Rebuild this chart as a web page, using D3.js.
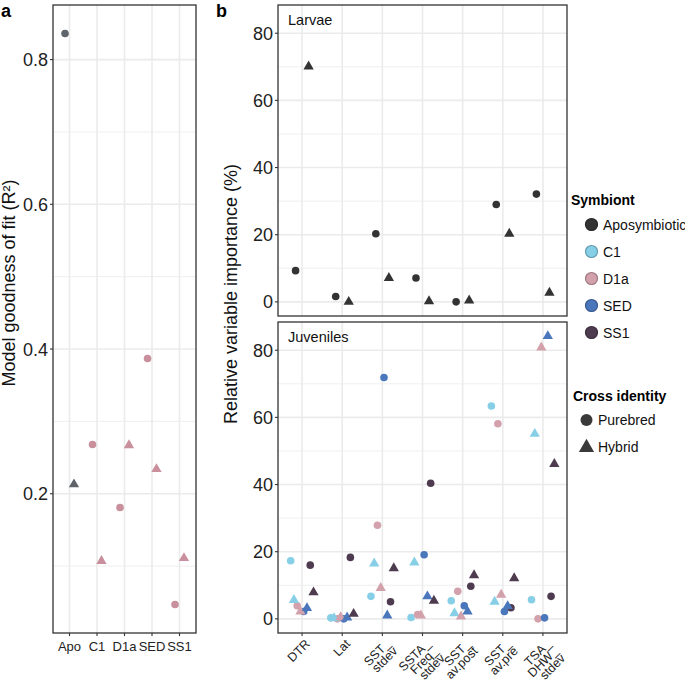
<!DOCTYPE html>
<html>
<head>
<meta charset="utf-8">
<script src="https://cdn.jsdelivr.net/npm/d3@7"></script>
<style>
  body { margin: 0; background: #fff; }
  svg { font-family: "Liberation Sans", Arial, sans-serif; }
</style>
</head>
<body>
<svg id="chart" width="685" height="682"></svg>
<script>
// ---- data ----
const symbionts = ["Aposymbiotic", "C1", "D1a", "SED", "SS1"];
const symbiontColors = ["#333333", "#86cfe7", "#d3a1ab", "#4a76bb", "#4e3b4f"];
const crosses = ["Purebred", "Hybrid"];

// panel a: model fit
const fitGroups = ["Apo", "C1", "D1a", "SED", "SS1"];
const fitPurebred = [0.836, 0.268, 0.181, 0.387, 0.047];
const fitHybrid = [0.213, 0.107, 0.267, 0.234, 0.111];

// panel b: variable importance
const predictors = ["DTR", "Lat", "SST_stdev", "SSTA_Freq_stdev", "SST_av.post", "SST_av.pre", "TSA_DHW_stdev"];
const predictorLabels = [["DTR"], ["Lat"], ["SST_", "stdev"], ["SSTA_", "Freq_", "stdev"], ["SST_", "av.post"], ["SST_", "av.pre"], ["TSA_", "DHW_", "stdev"]];

const larvaePurebred = [9.3, 1.6, 20.3, 7.1, 0.0, 29.0, 32.1];
const larvaeHybrid = [70.1, 0.0, 7.1, 0.2, 0.4, 20.3, 2.7];

const juvC1Purebred = [17.3, 0.3, 6.7, 0.4, 5.4, 63.4, 5.7];
const juvC1Hybrid = [5.6, 0.2, 16.5, 16.8, 1.7, 5.1, 55.1];
const juvD1aPurebred = [3.9, 0.0, 27.9, 1.3, 8.2, 58.1, 0.0];
const juvD1aHybrid = [2.2, 0.5, 9.2, 1.0, 0.7, 7.2, 80.8];
const juvSEDPurebred = [2.2, 0.0, 71.9, 19.1, 3.9, 2.2, 0.3];
const juvSEDHybrid = [3.2, 0.4, 1.0, 6.7, 2.2, 3.8, 84.2];
const juvSS1Purebred = [16.0, 18.3, 5.1, 40.4, 9.7, 3.3, 6.7];
const juvSS1Hybrid = [7.9, 1.5, 15.1, 5.4, 13.0, 12.1, 46.1];

// ---- build rows ----
const fitRows = [];
fitGroups.forEach((g, i) => {
  fitRows.push({ cat: g, sym: i, cross: 0, v: fitPurebred[i], grp: 0, n: 2 });
  fitRows.push({ cat: g, sym: i, cross: 1, v: fitHybrid[i], grp: 1, n: 2 });
});

const larvaeRows = [];
predictors.forEach((p, i) => {
  larvaeRows.push({ cat: p, sym: 0, cross: 0, v: larvaePurebred[i], grp: 0, n: 2 });
  larvaeRows.push({ cat: p, sym: 0, cross: 1, v: larvaeHybrid[i], grp: 1, n: 2 });
});

const juvSeries = [
  [juvC1Purebred, juvC1Hybrid],
  [juvD1aPurebred, juvD1aHybrid],
  [juvSEDPurebred, juvSEDHybrid],
  [juvSS1Purebred, juvSS1Hybrid]
];
const juvRows = [];
predictors.forEach((p, i) => {
  juvSeries.forEach((pair, s) => {
    pair.forEach((arr, c) => {
      juvRows.push({ cat: p, sym: s + 1, cross: c, v: arr[i], grp: s * 2 + c, n: 8 });
    });
  });
});

const svg = d3.select("#chart");
const dodgeW = 0.65;
const triSym = d3.symbol(d3.symbolTriangle, 46);

function drawFrame(box, x, y, majors, minors, fmt) {
  const g = svg.append("g");
  minors.forEach(m => {
    g.append("line").attr("x1", box.l).attr("x2", box.r).attr("y1", y(m)).attr("y2", y(m))
      .attr("stroke", "#ebebeb").attr("stroke-width", 0.8);
  });
  majors.forEach(m => {
    g.append("line").attr("x1", box.l).attr("x2", box.r).attr("y1", y(m)).attr("y2", y(m))
      .attr("stroke", "#ebebeb").attr("stroke-width", 1.6);
  });
  x.domain().forEach(c => {
    g.append("line").attr("x1", x(c)).attr("x2", x(c)).attr("y1", box.t).attr("y2", box.b)
      .attr("stroke", "#ebebeb").attr("stroke-width", 1.6);
  });
  // y ticks + labels
  majors.forEach(m => {
    g.append("line").attr("x1", box.l - 3).attr("x2", box.l).attr("y1", y(m)).attr("y2", y(m))
      .attr("stroke", "#333").attr("stroke-width", 1.1);
    g.append("text").attr("x", box.l - 5).attr("y", y(m)).attr("dy", "0.36em")
      .attr("text-anchor", "end").attr("font-size", 18).attr("fill", "#222")
      .text(fmt(m));
  });
  return g;
}

function drawBorder(box) {
  svg.append("rect").attr("x", box.l).attr("y", box.t)
    .attr("width", box.r - box.l).attr("height", box.b - box.t)
    .attr("fill", "none").attr("stroke", "#333").attr("stroke-width", 1.3);
}

function drawPoints(rows, x, y, colorFn) {
  const step = x.step();
  const px = d => x(d.cat) + step * dodgeW * ((d.grp + 0.5) / d.n - 0.5);
  const g = svg.append("g");
  g.selectAll("circle").data(rows.filter(d => d.cross === 0)).join("circle")
    .attr("cx", px).attr("cy", d => y(d.v)).attr("r", 3.8)
    .attr("fill", colorFn);
  g.selectAll("path").data(rows.filter(d => d.cross === 1)).join("path")
    .attr("d", triSym)
    .attr("transform", d => `translate(${px(d)},${y(d.v)})`)
    .attr("fill", colorFn);
}

// ---- panel a ----
const boxA = { l: 53, r: 196, t: 5, b: 633 };
const xA = d3.scalePoint().domain(fitGroups).range([boxA.l, boxA.r]).padding(0.6);
const fitMax = d3.max(fitPurebred.concat(fitHybrid));
const fitMin = d3.min(fitPurebred.concat(fitHybrid));
const fitPad = (fitMax - fitMin) * 0.05;
const yA = d3.scaleLinear().domain([fitMin - fitPad, fitMax + fitPad]).range([boxA.b, boxA.t]);
drawFrame(boxA, xA, yA, [0.2, 0.4, 0.6, 0.8], [0.1, 0.3, 0.5, 0.7], d3.format(".1f"));
drawPoints(fitRows, xA, yA, d => d.sym === 0 ? "#5f636a" : "#c98f9c");
drawBorder(boxA);
fitGroups.forEach(c => {
  svg.append("line").attr("x1", xA(c)).attr("x2", xA(c)).attr("y1", boxA.b).attr("y2", boxA.b + 3)
    .attr("stroke", "#333").attr("stroke-width", 1.1);
  svg.append("text").attr("x", xA(c)).attr("y", boxA.b + 18).attr("text-anchor", "middle")
    .attr("font-size", 13).attr("fill", "#222").text(c);
});
svg.append("text").attr("transform", "translate(15,283) rotate(-90)")
  .attr("text-anchor", "middle").attr("font-size", 18).attr("fill", "#111")
  .text("Model goodness of fit (R²)");
svg.append("text").attr("x", 1).attr("y", 17).attr("font-size", 18).attr("font-weight", "bold").text("a");

// ---- panel b ----
const boxL = { l: 278, r: 567, t: 5, b: 316 };
const boxJ = { l: 278, r: 567, t: 322, b: 633 };
const allB = larvaeRows.concat(juvRows).map(d => d.v);
const bMax = d3.max(allB), bMin = d3.min(allB);
const bPad = (bMax - bMin) * 0.05;
const xB = d3.scalePoint().domain(predictors).range([boxL.l, boxL.r]).padding(0.6);
const yL = d3.scaleLinear().domain([bMin - bPad, bMax + bPad]).range([boxL.b, boxL.t]);
const yJ = d3.scaleLinear().domain([bMin - bPad, bMax + bPad]).range([boxJ.b, boxJ.t]);
const majorsB = [0, 20, 40, 60, 80], minorsB = [10, 30, 50, 70];

drawFrame(boxL, xB, yL, majorsB, minorsB, d3.format("d"));
drawPoints(larvaeRows, xB, yL, d => symbiontColors[d.sym]);
drawBorder(boxL);
svg.append("text").attr("x", 288).attr("y", 25).attr("font-size", 14.5).attr("fill", "#111").text("Larvae");

drawFrame(boxJ, xB, yJ, majorsB, minorsB, d3.format("d"));
drawPoints(juvRows, xB, yJ, d => symbiontColors[d.sym]);
drawBorder(boxJ);
svg.append("text").attr("x", 288).attr("y", 342).attr("font-size", 14.5).attr("fill", "#111").text("Juveniles");

predictors.forEach((p, i) => {
  svg.append("line").attr("x1", xB(p)).attr("x2", xB(p)).attr("y1", boxJ.b).attr("y2", boxJ.b + 3)
    .attr("stroke", "#333").attr("stroke-width", 1.1);
  const t = svg.append("text")
    .attr("transform", `translate(${xB(p) + 2},${boxJ.b + 5}) rotate(-45)`)
    .attr("text-anchor", "end").attr("font-size", 12.5).attr("fill", "#222");
  predictorLabels[i].forEach((line, k) => {
    t.append("tspan").attr("x", 0).attr("dy", k === 0 ? "0.75em" : "0.82em").text(line);
  });
});

svg.append("text").attr("transform", "translate(237,294) rotate(-90)")
  .attr("text-anchor", "middle").attr("font-size", 18).attr("fill", "#111")
  .text("Relative variable importance (%)");
svg.append("text").attr("x", 216).attr("y", 17).attr("font-size", 18).attr("font-weight", "bold").text("b");

// ---- legends ----
const leg = svg.append("g");
leg.append("text").attr("x", 571).attr("y", 205).attr("font-size", 14).attr("font-weight", "bold").text("Symbiont");
symbionts.forEach((s, i) => {
  const cy = 224.5 + i * 27;
  leg.append("circle").attr("cx", 591.5).attr("cy", cy).attr("r", 6)
    .attr("fill", symbiontColors[i]).attr("stroke", d3.color(symbiontColors[i]).darker(0.8)).attr("stroke-width", 1.2);
  leg.append("text").attr("x", 603).attr("y", cy + 5).attr("font-size", 14).attr("fill", "#111").text(s);
});
leg.append("text").attr("x", 573).attr("y", 401).attr("font-size", 14).attr("font-weight", "bold").text("Cross identity");
leg.append("circle").attr("cx", 586.5).attr("cy", 420).attr("r", 6).attr("fill", "#3a3a3a");
leg.append("path").attr("d", d3.symbol(d3.symbolTriangle, 100)).attr("transform", "translate(586.5,447.5)").attr("fill", "#3a3a3a");
crosses.forEach((c, i) => {
  leg.append("text").attr("x", 598).attr("y", 425 + i * 27).attr("font-size", 14).attr("fill", "#111").text(c);
});
</script>
</body>
</html>
